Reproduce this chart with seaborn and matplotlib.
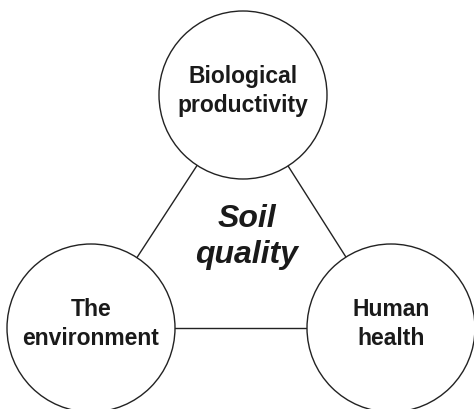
import matplotlib
matplotlib.use("Agg")
import matplotlib.pyplot as plt
from matplotlib.patches import Circle
import seaborn as sns
import pandas as pd

# Diagram data
node_labels = ["Biological\nproductivity", "The\nenvironment", "Human\nhealth"]
node_x = [243, 91, 391]
node_y = [95, 328, 328]
node_radius = 84
edges = [(0, 1), (0, 2), (1, 2)]
center_label = "Soil\nquality"
center_xy = (247, 237)

sns.set_theme(style="white")
plt.rcParams["font.family"] = ["Liberation Sans", "DejaVu Sans"]

fig = plt.figure(figsize=(4.74, 4.09), dpi=100)
ax = fig.add_axes([0, 0, 1, 1])

rows = []
for k, (a, b) in enumerate(edges):
    rows.append({"edge": k, "order": 0, "x": node_x[a], "y": node_y[a]})
    rows.append({"edge": k, "order": 1, "x": node_x[b], "y": node_y[b]})
edge_df = pd.DataFrame(rows)

sns.lineplot(data=edge_df, x="x", y="y", units="edge", estimator=None,
             sort=False, color="#222222", linewidth=1.0, ax=ax, zorder=1)

for lbl, x, y in zip(node_labels, node_x, node_y):
    ax.add_patch(Circle((x, y), node_radius, facecolor="white",
                        edgecolor="#222222", linewidth=1.0, zorder=2))
    ax.text(x, y - 4, lbl, ha="center", va="center", fontsize=16.5,
            fontweight="bold", color="#1a1a1a", linespacing=1.28, zorder=3)

ax.text(center_xy[0], center_xy[1], center_label, ha="center", va="center",
        fontsize=23, fontweight="bold", fontstyle="italic", color="#1a1a1a",
        linespacing=1.25, zorder=3)

ax.set_xlim(0, 474)
ax.set_ylim(409, 0)
ax.set_aspect("equal")
ax.axis("off")

fig.savefig("out.png", dpi=100, facecolor="white")
